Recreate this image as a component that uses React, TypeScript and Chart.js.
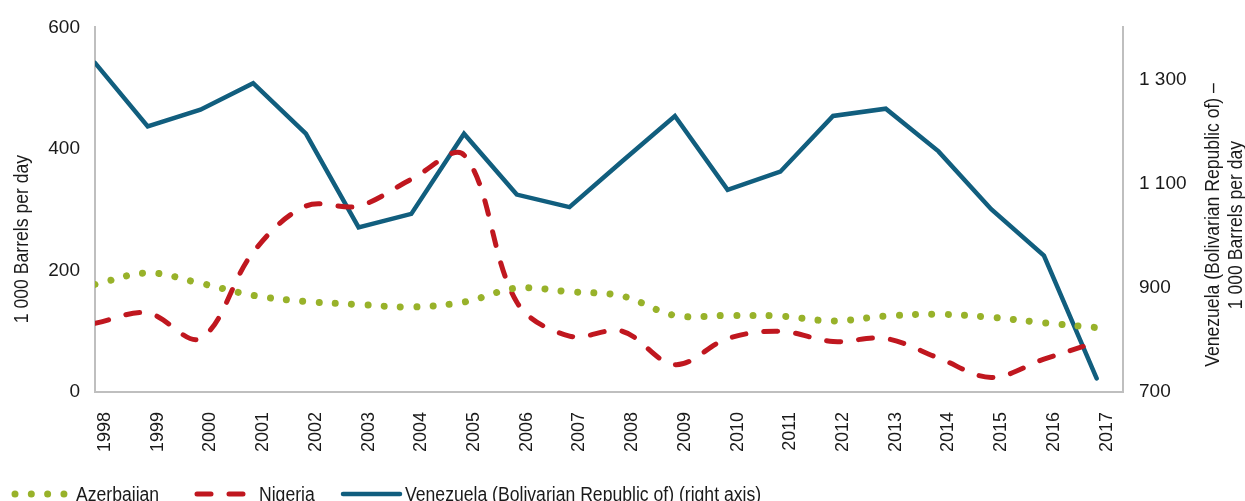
import React, { useEffect, useRef } from 'react';
import { Chart, registerables } from 'chart.js';

Chart.register(...registerables);

const years = ['1998', '1999', '2000', '2001', '2002', '2003', '2004', '2005', '2006', '2007', '2008', '2009', '2010', '2011', '2012', '2013', '2014', '2015', '2016', '2017'];
const azerbaijan = [177, 196, 179, 159, 149, 144, 140, 148, 171, 165, 158, 126, 126, 125, 117, 125, 128, 123, 114, 106];
const nigeria = [113, 130, 88, 230, 306, 306, 350, 390, 148, 92, 100, 45, 88, 100, 83, 88, 56, 24, 54, 82];
const venezuela = [1332, 1210, 1242, 1293, 1196, 1016, 1042, 1196, 1079, 1055, 1143, 1230, 1088, 1123, 1230, 1244, 1162, 1051, 962, 726];
const leftTicks = [0, 200, 400, 600];
const rightTicks = [700, 900, 1100, 1300];
const seriesNames = ['Azerbaijan', 'Nigeria', 'Venezuela (Bolivarian Republic of) (right axis)'];
const leftTitle = '1 000 Barrels per day';
const rightTitle = ['Venezuela (Bolivarian Republic of) \u2013', '1 000 Barrels per day'];

const FONT = "'Liberation Sans', Arial, sans-serif";
const TEXT = '#1a1a1a';
const AXIS = '#bfbfbf';
const GREEN = '#98b22a';
const RED = '#c0171f';
const TEAL = '#115e7e';
const SQUEEZE = 0.88;

const fmt = (v: number) => String(v).replace(/\B(?=(\d{3})+(?!\d))/g, ' ');

function narrowText(ctx: any, text: string, x: number, y: number, rot: number, align: string) {
  ctx.save();
  ctx.translate(x, y);
  if (rot) ctx.rotate(rot);
  ctx.scale(SQUEEZE, 1);
  ctx.textAlign = align;
  ctx.fillText(text, 0, 0);
  ctx.restore();
}

const overlay = {
  id: 'overlay',
  afterDraw(chart: any) {
    const { ctx, chartArea } = chart;
    ctx.save();
    ctx.fillStyle = TEXT;
    ctx.font = `20px ${FONT}`;
    ctx.textBaseline = 'middle';
    // axis titles
    narrowText(ctx, leftTitle, 22, chartArea.bottom - 153, -Math.PI / 2, 'center');
    narrowText(ctx, rightTitle[0], chartArea.right + 90, chartArea.bottom - 167, -Math.PI / 2, 'center');
    narrowText(ctx, rightTitle[1], chartArea.right + 113, chartArea.bottom - 167, -Math.PI / 2, 'center');
    // legend
    const legendY = 494;
    const starts = [15, 197, 343];
    const ends = [66, 246, 400];
    const textX = [76, 259, 405];
    chart.data.datasets.forEach((ds: any, i: number) => {
      ctx.save();
      ctx.strokeStyle = ds.borderColor;
      ctx.lineWidth = ds.borderWidth;
      ctx.lineCap = ds.borderCapStyle || 'butt';
      ctx.setLineDash(ds.borderDash || []);
      ctx.beginPath();
      ctx.moveTo(starts[i], legendY);
      ctx.lineTo(ends[i], legendY);
      ctx.stroke();
      ctx.restore();
      narrowText(ctx, ds.label, textX[i], legendY + 1, 0, 'left');
    });
    ctx.restore();
  },
};

export default function App() {
  const ref = useRef<HTMLCanvasElement | null>(null);
  useEffect(() => {
    if (!ref.current) return;
    const tickFont = { family: FONT, size: 19 };
    const yearFont = { family: FONT, size: 18 };
    const chart = new Chart(ref.current, {
      type: 'line',
      data: {
        datasets: [
          {
            label: seriesNames[0],
            data: azerbaijan.map((v, i) => ({ x: i, y: v })),
            borderColor: GREEN,
            borderWidth: 7,
            borderDash: [0.01, 16.3],
            borderCapStyle: 'round',
            tension: 0.35,
            pointRadius: 0,
            yAxisID: 'y',
          },
          {
            label: seriesNames[1],
            data: nigeria.map((v, i) => ({ x: i, y: v })),
            borderColor: RED,
            borderWidth: 5,
            borderDash: [14, 18],
            borderCapStyle: 'round',
            tension: 0.35,
            pointRadius: 0,
            yAxisID: 'y',
          },
          {
            label: seriesNames[2],
            data: venezuela.map((v, i) => ({ x: i, y: v })),
            borderColor: TEAL,
            borderWidth: 4.5,
            borderCapStyle: 'round',
            borderJoinStyle: 'miter',
            tension: 0,
            pointRadius: 0,
            yAxisID: 'y2',
          },
        ],
      },
      options: {
        animation: false,
        responsive: false,
        layout: { padding: { top: 22, left: 0, right: 0, bottom: 0 } },
        plugins: { legend: { display: false }, tooltip: { enabled: false }, title: { display: false } },
        scales: {
          x: {
            type: 'linear',
            min: 0,
            max: 19.5,
            afterBuildTicks: (s: any) => { s.ticks = years.map((_, i) => ({ value: i })); },
            afterFit: (s: any) => { s.height = 109; },
            grid: { display: false, drawTicks: false },
            border: { display: true, color: AXIS, width: 2 },
            ticks: {
              autoSkip: false,
              minRotation: 90,
              maxRotation: 90,
              padding: 20,
              labelOffset: 10,
              color: TEXT,
              font: yearFont,
              callback: (v: any) => years[v],
            },
          },
          y: {
            position: 'left',
            min: 0,
            max: 600,
            afterBuildTicks: (s: any) => { s.ticks = leftTicks.map((v) => ({ value: v })); },
            afterFit: (s: any) => { s.width = 95; },
            grid: { display: false, drawTicks: false },
            border: { display: true, color: AXIS, width: 2 },
            ticks: { padding: 15, color: TEXT, font: tickFont, callback: (v: any) => fmt(v) },
          },
          y2: {
            position: 'right',
            min: 700,
            max: 1400,
            afterBuildTicks: (s: any) => { s.ticks = rightTicks.map((v) => ({ value: v })); },
            afterFit: (s: any) => { s.width = 122; },
            grid: { display: false, drawTicks: false },
            border: { display: true, color: AXIS, width: 2 },
            ticks: { padding: 16, color: TEXT, font: tickFont, callback: (v: any) => fmt(v) },
          },
        },
      },
      plugins: [overlay],
    } as any);
    return () => chart.destroy();
  }, []);
  return (
    <div style={{ position: 'fixed', left: 0, top: 0, width: 1245, height: 501, overflow: 'hidden', background: '#fff' }}>
      <canvas ref={ref} width={1245} height={501} style={{ width: 1245, height: 501, display: 'block' }} />
    </div>
  );
}
